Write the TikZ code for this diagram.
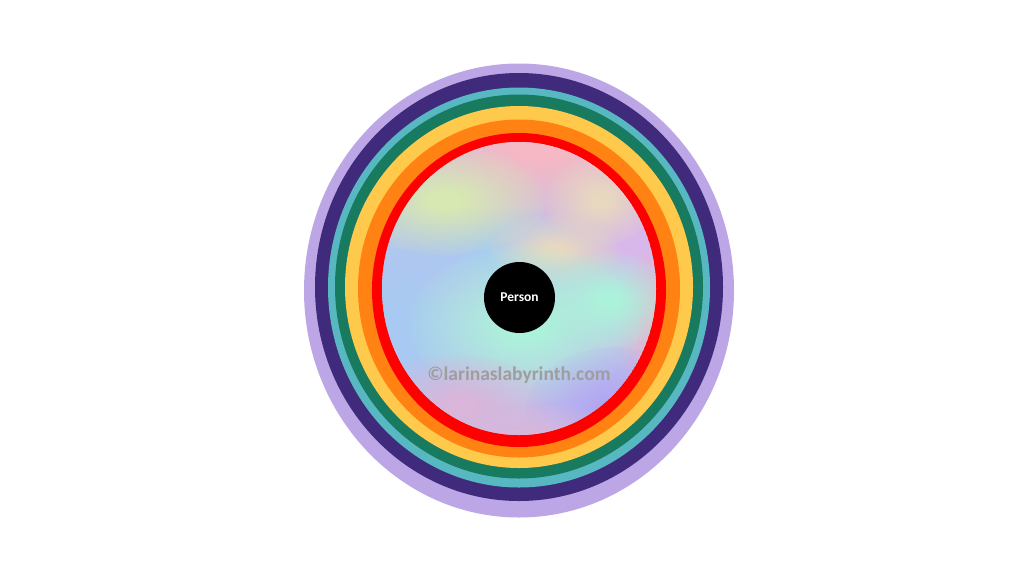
\documentclass[tikz,border=0pt]{standalone}
\usepackage{fontspec}
\setmainfont{Carlito}
\usetikzlibrary{fadings}
\definecolor{lavring}{HTML}{BCA6E6}
\definecolor{purplering}{HTML}{3F2A7C}
\definecolor{tealring}{HTML}{58B8C2}
\definecolor{greenring}{HTML}{187A5E}
\definecolor{yellowring}{HTML}{FFC94C}
\definecolor{orangering}{HTML}{FF8212}
\definecolor{redring}{HTML}{FF0000}
\definecolor{swirlbase}{HTML}{C2C2EC}
\definecolor{swirlpink}{HTML}{F6B8C4}
\definecolor{swirllime}{HTML}{D8E8B2}
\definecolor{swirlsand}{HTML}{E8D8C0}
\definecolor{swirllilac}{HTML}{D8B8EA}
\definecolor{swirlrose}{HTML}{ECB8C6}
\definecolor{swirlblue}{HTML}{A8CAF2}
\definecolor{swirlmint}{HTML}{ACF2DA}
\definecolor{swirlmauve}{HTML}{DAB6DA}
\definecolor{swirlviolet}{HTML}{B0A6F2}
\pgfdeclareradialshading{blobshade}{\pgfpointorigin}{color(0bp)=(white); color(4bp)=(white); color(27bp)=(black); color(50bp)=(black)}
\pgfdeclarefading{blob}{\pgfuseshading{blobshade}}
\tikzset{
  swirl/.style={path fading=blob},
  person/.style={circle, fill=black, text=white, minimum size=71pt, inner sep=0pt, font=\bfseries\fontsize{13.5}{15}\selectfont},
  watermark/.style={text=black!38, font=\bfseries\fontsize{19.5}{22}\selectfont, inner sep=0pt}
}
\begin{document}
\begin{tikzpicture}[x=1pt,y=-1pt]
	\useasboundingbox (0,0) rectangle (1024,576);
	\fill[white] (0,0) rectangle (1024,576);
	\fill[lavring] (519,290.5) ellipse (215 and 227);
	\fill[purplering] (519,287) ellipse (204 and 214);
	\fill[tealring] (519,287.5) ellipse (191 and 200);
	\fill[greenring] (519,286.5) ellipse (184 and 192);
	\fill[yellowring] (519,287) ellipse (174 and 181);
	\fill[orangering] (519,288.5) ellipse (161 and 169);
	\fill[redring] (519,290) ellipse (147 and 157);
	\begin{scope}
		\clip (519,288.5) ellipse (137 and 146.5);
		\fill[swirlbase] (519,288.5) ellipse (137 and 146.5);
		\fill[swirllilac, swirl] (635,240) ellipse (95 and 130);
		\fill[swirlpink, swirl] (540,145) ellipse (170 and 85);
		\fill[swirlrose, swirl] (672,330) ellipse (55 and 85);
		\fill[swirlblue, swirl] (400,330) ellipse (110 and 170);
		\fill[swirlblue, swirl] (490,250) ellipse (85 and 45);
		\fill[swirllime, swirl] (445,200) ellipse (100 and 55);
		\fill[swirlsand, swirl] (555,250) ellipse (65 and 35);
		\fill[swirlsand, swirl] (600,200) ellipse (55 and 45);
		\fill[swirlmint, swirl] (525,325) ellipse (115 and 80);
		\fill[swirlmint, swirl] (608,300) ellipse (65 and 48);
		\fill[swirlmauve, swirl] (460,405) ellipse (90 and 50);
		\fill[swirlviolet, swirl] (615,412) ellipse (90 and 65);
		\fill[swirlmauve, swirl] (530,440) ellipse (85 and 38);
	\end{scope}
	\node[person] (person) at (519.5,297.5) {Person};
	\node[watermark] (copyright) at (519,375) {©larinaslabyrinth.com};
\end{tikzpicture}
\end{document}
